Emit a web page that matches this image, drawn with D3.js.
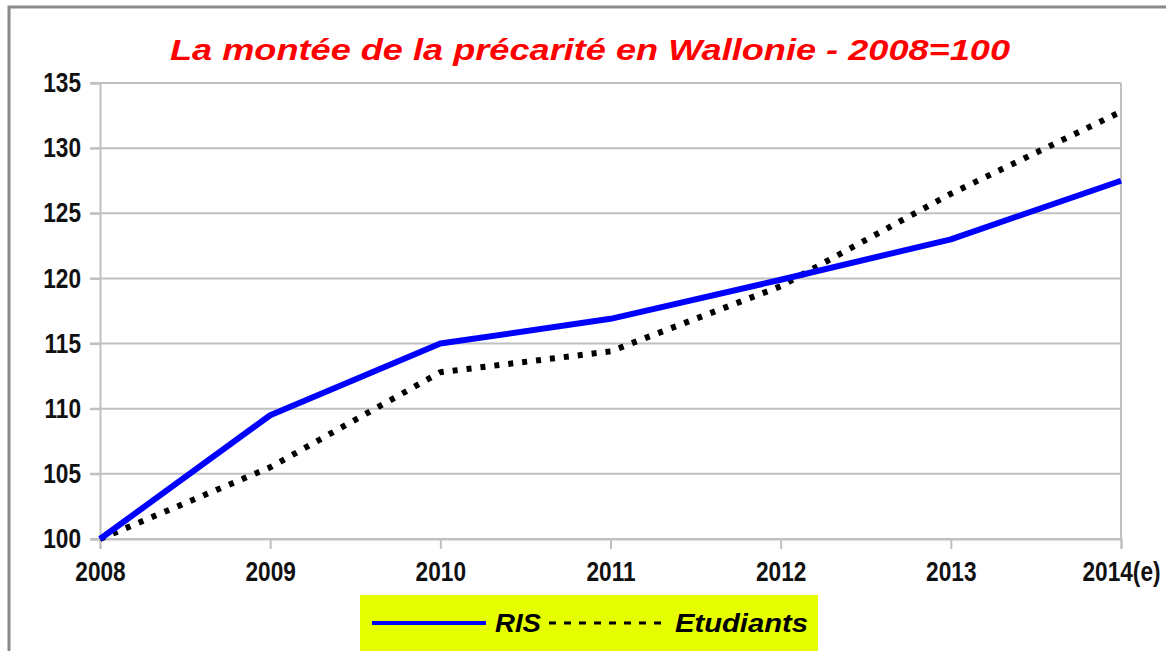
<!DOCTYPE html>
<html>
<head>
<meta charset="utf-8">
<script src="https://cdn.jsdelivr.net/npm/d3@7"></script>
<style>
  body { margin: 0; background: #fff; }
  svg { display: block; }
</style>
</head>
<body>
<div id="chart"></div>
<script>
// données
const years = ['2008', '2009', '2010', '2011', '2012', '2013', '2014(e)'];
const ris = [100, 109.5, 115.0, 116.9, 119.9, 123.0, 127.5];
const etudiants = [100, 105.5, 112.8, 114.4, 119.4, 126.5, 132.8];
const yTicks = [100, 105, 110, 115, 120, 125, 130, 135];

const W = 1166, H = 651;
const margin = { left: 100, right: 45, top: 83, bottom: 112 };
const sx = 0.84; // police étroite simulée

const svg = d3.select('#chart').append('svg')
  .attr('width', W).attr('height', H);

// cadre extérieur
svg.append('rect')
  .attr('x', 9).attr('y', 7)
  .attr('width', W + 20).attr('height', H + 20)
  .attr('fill', 'none')
  .attr('stroke', '#8a8a8a')
  .attr('stroke-width', 3);

const x = d3.scalePoint()
  .domain(years)
  .range([margin.left, W - margin.right]);

const y = d3.scaleLinear()
  .domain([100, 135])
  .range([H - margin.bottom, margin.top]);

// titre
svg.append('text')
  .attr('x', 170).attr('y', 60)
  .attr('font-family', 'Liberation Sans, Arial, sans-serif')
  .attr('font-weight', 'bold')
  .attr('font-style', 'italic')
  .attr('font-size', 29)
  .attr('fill', '#ff0000')
  .attr('textLength', 840)
  .attr('lengthAdjust', 'spacingAndGlyphs')
  .text('La montée de la précarité en Wallonie - 2008=100');

// grille horizontale
svg.append('g')
  .selectAll('line')
  .data(yTicks)
  .enter().append('line')
  .attr('x1', margin.left - 10)
  .attr('x2', W - margin.right)
  .attr('y1', d => y(d)).attr('y2', d => y(d))
  .attr('stroke', '#c0c0c0')
  .attr('stroke-width', 2);

// axes
const yAxis = svg.append('g')
  .attr('transform', `translate(${margin.left},0)`)
  .call(d3.axisLeft(y).tickValues(yTicks).tickSize(10).tickPadding(9));

const xAxis = svg.append('g')
  .attr('transform', `translate(0,${H - margin.bottom})`)
  .call(d3.axisBottom(x).tickSize(10).tickPadding(13));

[yAxis, xAxis].forEach(ax => {
  ax.select('.domain').attr('stroke', '#c0c0c0').attr('stroke-width', 2);
  ax.selectAll('.tick line').attr('stroke', '#c0c0c0').attr('stroke-width', 2);
  ax.selectAll('.tick text')
    .attr('font-family', 'Liberation Sans, Arial, sans-serif')
    .attr('font-weight', 'bold')
    .attr('font-size', 27)
    .attr('fill', '#111')
    .attr('transform', `scale(${sx},1)`);
});
yAxis.selectAll('.tick text').attr('x', -19 / sx);

// bord droit de la zone de tracé
svg.append('line')
  .attr('x1', W - margin.right).attr('x2', W - margin.right)
  .attr('y1', margin.top).attr('y2', H - margin.bottom)
  .attr('stroke', '#c0c0c0').attr('stroke-width', 2);

// courbes
const line = d3.line()
  .x((d, i) => x(years[i]))
  .y(d => y(d));

svg.append('path')
  .datum(etudiants)
  .attr('d', line)
  .attr('fill', 'none')
  .attr('stroke', '#000')
  .attr('stroke-width', 6)
  .attr('stroke-linejoin', 'round')
  .attr('stroke-dasharray', '5,9');

svg.append('path')
  .datum(ris)
  .attr('d', line)
  .attr('fill', 'none')
  .attr('stroke', '#0000ff')
  .attr('stroke-width', 6)
  .attr('stroke-linejoin', 'round');

// légende
const leg = svg.append('g');
leg.append('rect')
  .attr('x', 360).attr('y', 595)
  .attr('width', 458).attr('height', 60)
  .attr('fill', '#e5ff00');
leg.append('line')
  .attr('x1', 372).attr('x2', 486)
  .attr('y1', 623).attr('y2', 623)
  .attr('stroke', '#0000ff').attr('stroke-width', 4);
leg.append('line')
  .attr('x1', 549).attr('x2', 667)
  .attr('y1', 623).attr('y2', 623)
  .attr('stroke', '#000').attr('stroke-width', 3)
  .attr('stroke-dasharray', '7,8');
[{ t: 'RIS', x: 495, w: 46 }, { t: 'Etudiants', x: 675, w: 133 }].forEach(d => {
  leg.append('text')
    .attr('x', d.x).attr('y', 632)
    .attr('font-family', 'Liberation Sans, Arial, sans-serif')
    .attr('font-weight', 'bold')
    .attr('font-style', 'italic')
    .attr('font-size', 25)
    .attr('fill', '#000')
    .attr('textLength', d.w)
    .attr('lengthAdjust', 'spacingAndGlyphs')
    .text(d.t);
});
</script>
</body>
</html>
